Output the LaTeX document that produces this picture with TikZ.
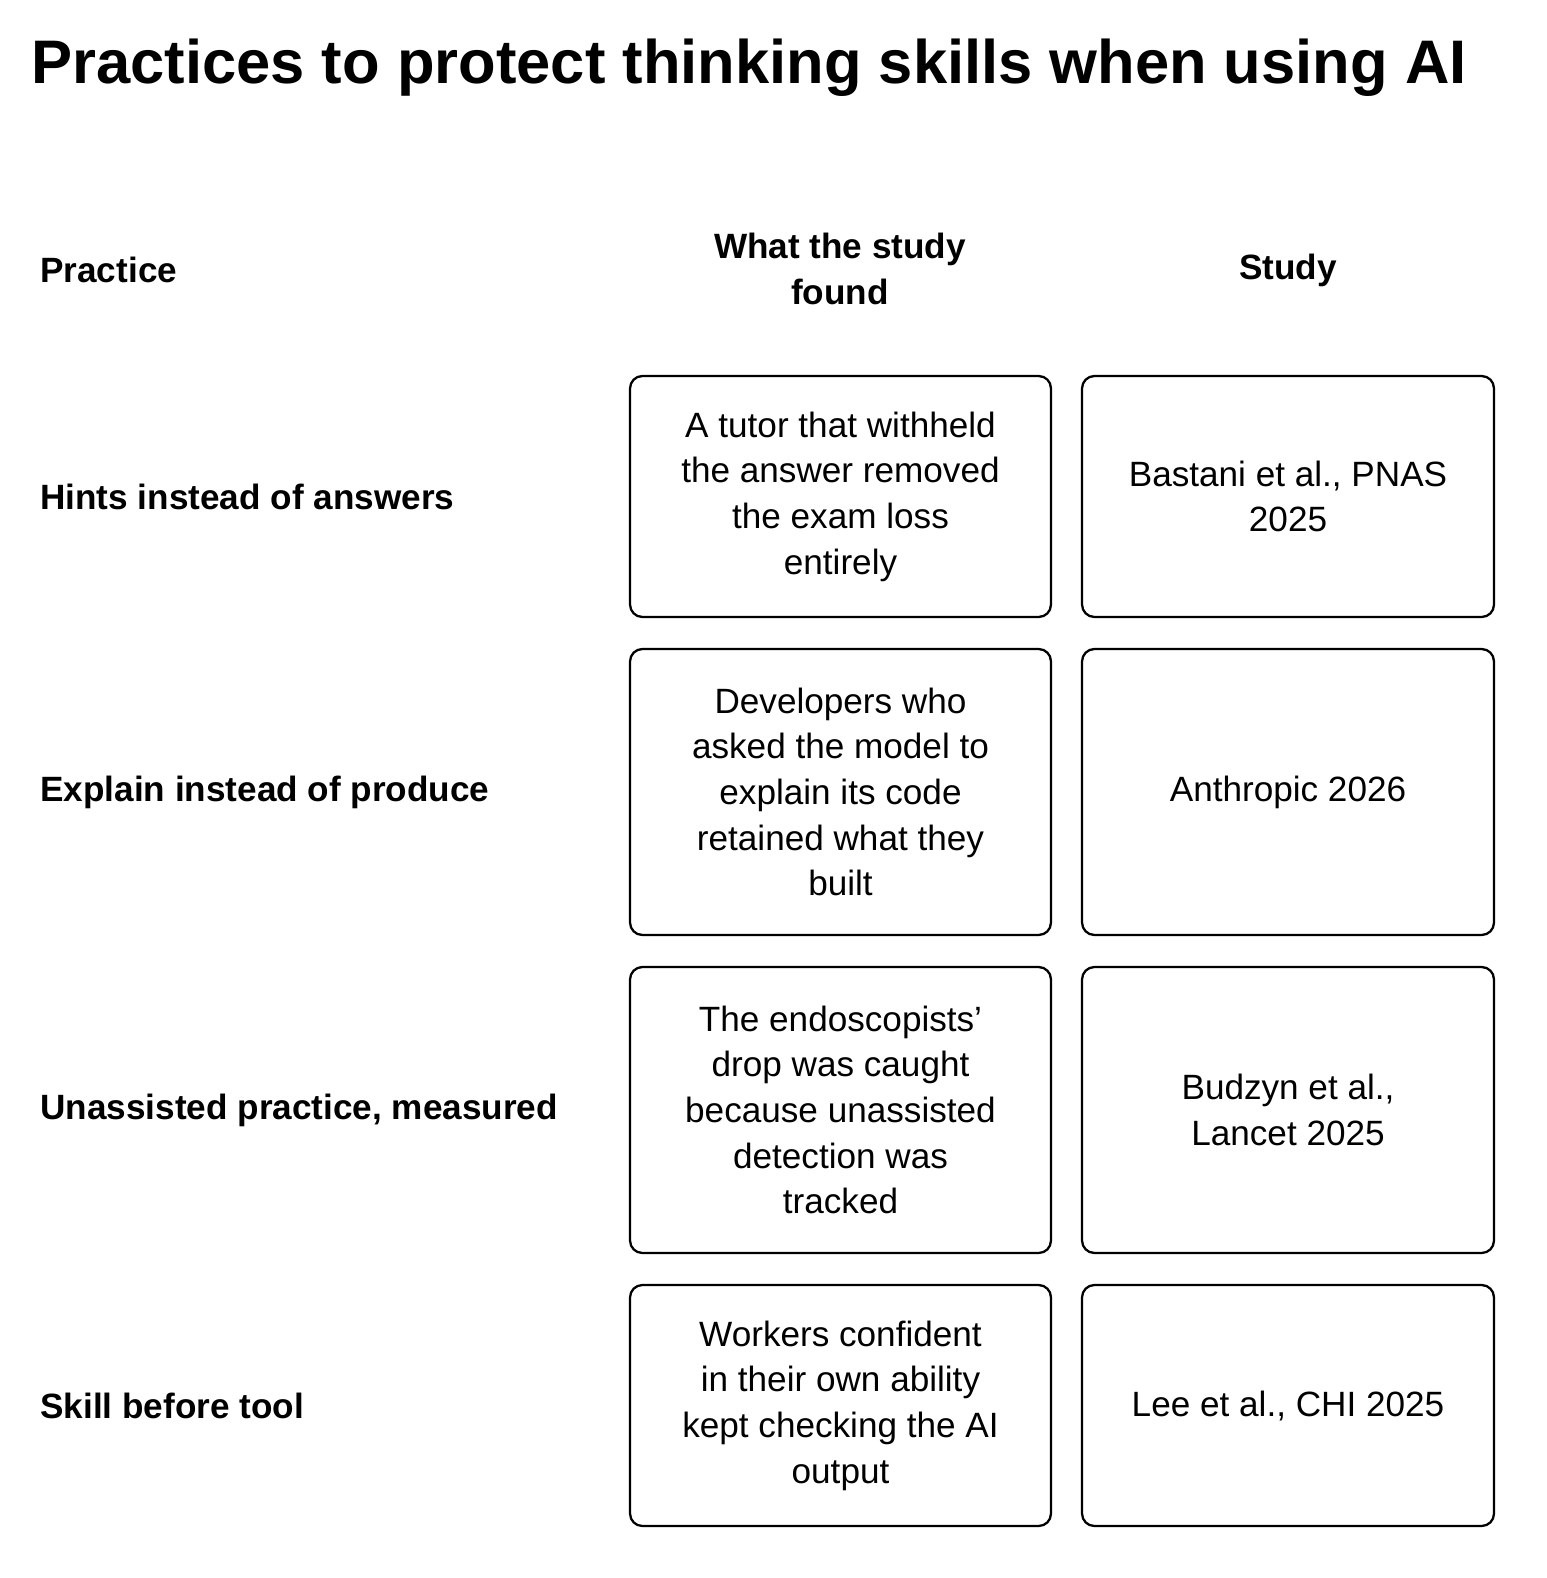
\documentclass[tikz,border=0pt]{standalone}
\usepackage{fontspec}
\setmainfont{Liberation Sans}
\tikzset{
  cell/.style={draw, line width=1.3pt, rounded corners=7pt, align=center,
    inner sep=0pt, font=\fontsize{20}{26}\selectfont},
  found/.style={cell, minimum width=8.42cm},
  study/.style={cell, minimum width=8.24cm},
  practice/.style={anchor=west, inner sep=0pt, font=\fontsize{20}{26}\selectfont\bfseries},
  head/.style={align=center, inner sep=0pt, font=\fontsize{20}{26}\selectfont\bfseries}
}
\begin{document}
\begin{tikzpicture}[x=0.02cm,y=-0.02cm]
\useasboundingbox (0,0) rectangle (1546,1578);

\node[inner sep=0pt, font=\fontsize{35}{40}\selectfont\bfseries] (title) at (749,68) {Practices to protect thinking skills when using AI};

% header row
\node[practice] (hpractice) at (40,270) {Practice};
\node[head] (hfound) at (840,269) {What the study\\found};
\node[head] (hstudy) at (1288,270) {Study};

% row 1
\node[practice] (p1) at (40,497) {Hints instead of answers};
\node[found, minimum height=4.82cm] (f1) at (840.5,496.5) {A tutor that withheld\\the answer removed\\the exam loss\\entirely};
\node[study, minimum height=4.82cm] (s1) at (1288,496.5) {Bastani et al., PNAS\\2025};

% row 2
\node[practice] (p2) at (40,792) {Explain instead of produce};
\node[found, minimum height=5.72cm] (f2) at (840.5,792) {Developers who\\asked the model to\\explain its code\\retained what they\\built};
\node[study, minimum height=5.72cm] (s2) at (1288,792) {Anthropic 2026};

% row 3
\node[practice] (p3) at (40,1110) {Unassisted practice, measured};
\node[found, minimum height=5.72cm] (f3) at (840.5,1110) {The endoscopists'\\drop was caught\\because unassisted\\detection was\\tracked};
\node[study, minimum height=5.72cm] (s3) at (1288,1110) {Budzyn et al.,\\Lancet 2025};

% row 4
\node[practice] (p4) at (40,1406) {Skill before tool};
\node[found, minimum height=4.82cm] (f4) at (840.5,1405.5) {Workers confident\\in their own ability\\kept checking the AI\\output};
\node[study, minimum height=4.82cm] (s4) at (1288,1405.5) {Lee et al., CHI 2025};
\end{tikzpicture}
\end{document}
